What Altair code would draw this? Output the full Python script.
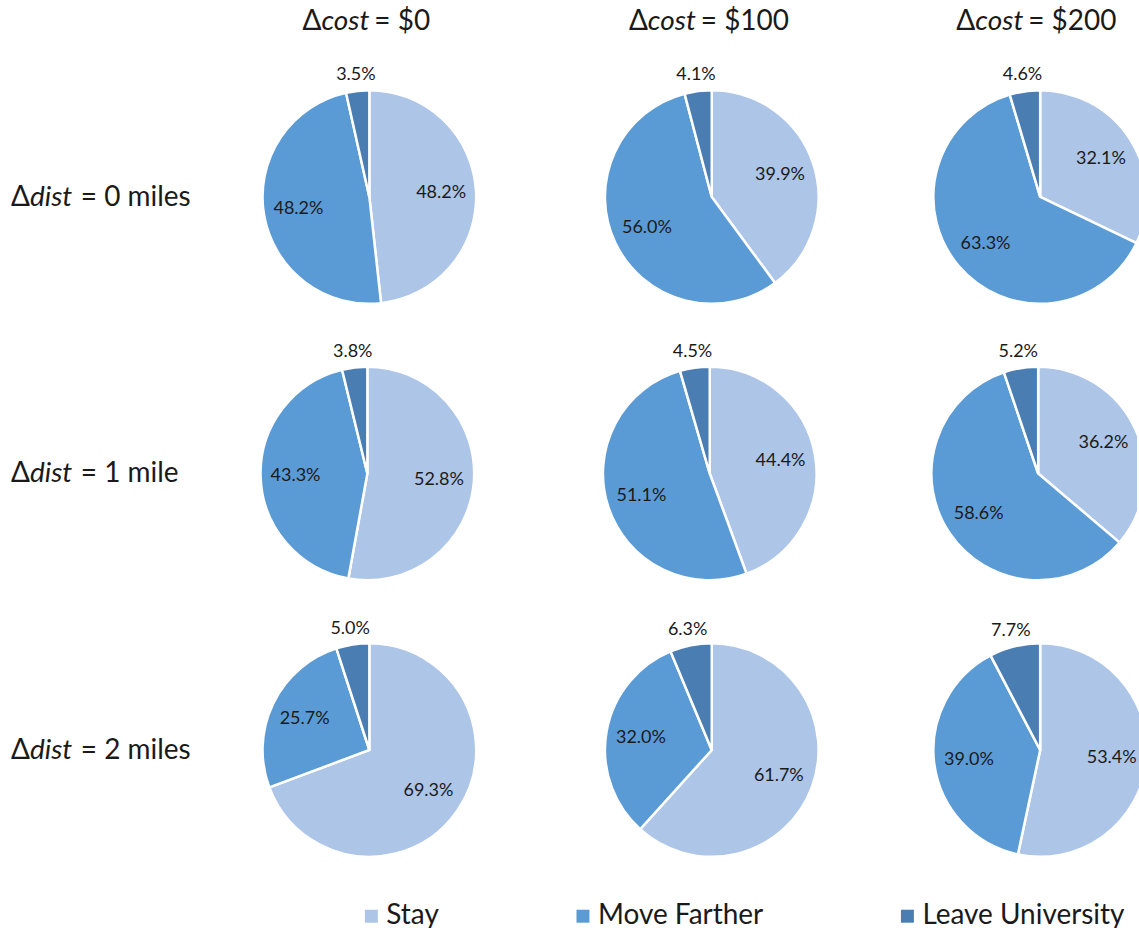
import altair as alt
import pandas as pd

# Scenario labels
cost_labels = ["$0", "$100", "$200"]
dist_labels = ["0 miles", "1 mile", "2 miles"]

# Outcome categories and their colours
categories = ["Stay", "Move Farther", "Leave University"]
colors = ["#adc5e7", "#5b9bd5", "#4a7eb3"]

# Shares (%) indexed as [distance row][cost column]
stay = [[48.2, 39.9, 32.1], [52.8, 44.4, 36.2], [69.3, 61.7, 53.4]]
move_farther = [[48.2, 56.0, 63.3], [43.3, 51.1, 58.6], [25.7, 32.0, 39.0]]
leave_university = [[3.5, 4.1, 4.6], [3.8, 4.5, 5.2], [5.0, 6.3, 7.7]]

FONT = "Lato"
TEXT_COLOR = "#1a1a1a"

# Panel geometry (the last column runs to the page edge, its pie is cut off)
col_widths = [356, 330, 263]
pie_centers = [178, 165, 164]
label_width = 190
header_height = 58
row_height = 277
legend_height = 38
pie_radius = 107

# Horizontal anchor of the italic word relative to each pie centre
header_anchor = [-46, -62, -63]
cost_word_width = 45
dist_word_width = 43
eq_gap = 8

legend = alt.Legend(
    orient="none", legendX=358, legendY=903, direction="horizontal",
    title=None, symbolType="square", symbolSize=169, symbolStrokeWidth=0,
    labelFont=FONT, labelFontSize=28, labelColor=TEXT_COLOR, labelLimit=0,
    labelOffset=1, columnPadding=130, padding=0,
)


def blank(w, h):
    return (
        alt.Chart(pd.DataFrame({"t": [""]}))
        .mark_text()
        .encode(text="t:N", x=alt.value(w / 2), y=alt.value(h / 2))
        .properties(width=w, height=h)
    )


def text_piece(s, x, y, align, italic=False, size=28):
    return (
        alt.Chart(pd.DataFrame({"t": [s]}))
        .mark_text(
            align=align, baseline="alphabetic", font=FONT, fontSize=size,
            fontStyle="italic" if italic else "normal", color=TEXT_COLOR,
        )
        .encode(text="t:N", x=alt.value(x), y=alt.value(y))
    )


def header(c):
    b = pie_centers[c] + header_anchor[c]
    y = 29
    return alt.layer(
        text_piece("\u0394", b, y, "right"),
        text_piece("cost", b, y, "left", italic=True),
        text_piece("= " + cost_labels[c], b + cost_word_width + eq_gap, y, "left"),
    ).properties(width=col_widths[c], height=header_height)


def row_label(r):
    b = 30
    y = row_height / 2 + 9
    return alt.layer(
        text_piece("\u0394", b, y, "right"),
        text_piece("dist", b, y, "left", italic=True),
        text_piece("= " + dist_labels[r], b + dist_word_width + eq_gap, y, "left"),
    ).properties(width=label_width, height=row_height)


def pie(r, c):
    shares = [stay[r][c], move_farther[r][c], leave_university[r][c]]
    df = pd.DataFrame({"category": categories, "share": shares, "order": [0, 1, 2]})

    arcs = (
        alt.Chart(df)
        .mark_arc(radius=pie_radius, stroke="white", strokeWidth=2.5, clip=True)
        .encode(
            theta=alt.Theta("share:Q", stack=True),
            order=alt.Order("order:Q"),
            x=alt.value(pie_centers[c]),
            color=alt.Color(
                "category:N",
                scale=alt.Scale(domain=categories, range=colors),
                sort=categories,
                legend=legend,
            ),
        )
    )
    # Each label sits at the middle angle of its slice: large slices inside,
    # the small "leave" slice just outside the rim
    labels = (
        alt.Chart(df)
        .transform_window(
            cum="sum(share)", sort=[alt.SortField("order", order="ascending")],
            frame=[None, 0],
        )
        .transform_calculate(
            mid="datum.cum - datum.share / 2",
            pct="format(datum.share, '.1f') + '%'",
            label_r="datum.category === 'Leave University' ? 123 : 72",
        )
        .mark_text(font=FONT, fontSize=18, color=TEXT_COLOR)
        .encode(
            theta=alt.Theta("mid:Q", stack=None),
            radius=alt.Radius("label_r:Q", scale=None),
            x=alt.value(pie_centers[c]),
            text="pct:N",
        )
    )
    return alt.layer(arcs, labels).properties(width=col_widths[c], height=row_height)


header_row = alt.hconcat(
    blank(label_width, header_height), *[header(c) for c in range(3)], spacing=0
)
pie_rows = [
    alt.hconcat(row_label(r), *[pie(r, c) for c in range(3)], spacing=0)
    for r in range(3)
]

chart = (
    alt.vconcat(header_row, *pie_rows, blank(label_width, legend_height), spacing=0)
    .properties(padding=0, background="white")
    .configure_view(stroke=None)
)

chart.save("out.html", embed_options={"renderer": "svg", "actions": False})
